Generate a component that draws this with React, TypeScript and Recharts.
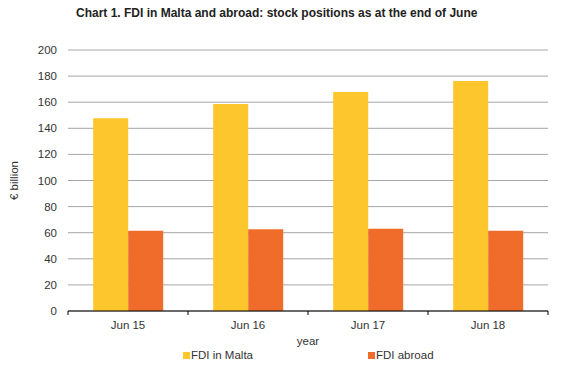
import React from "react";
import { BarChart, Bar, XAxis, YAxis, CartesianGrid } from "recharts";

const periods = ["Jun 15", "Jun 16", "Jun 17", "Jun 18"];
const fdiInMalta = [147.7, 158.6, 167.8, 176.2];
const fdiAbroad = [61.5, 62.6, 63.1, 61.5];
const yTicks = [0, 20, 40, 60, 80, 100, 120, 140, 160, 180, 200];
const seriesNames = ["FDI in Malta", "FDI abroad"];

const YELLOW = "#FDC62C";
const ORANGE = "#EF6C2B";
const FONT = "'Liberation Sans', Arial, sans-serif";

const data = periods.map((p, i) => ({
  period: p,
  malta: fdiInMalta[i],
  abroad: fdiAbroad[i],
}));

const BAND = 120;

function XTick(props: any) {
  const { x, y, payload, index } = props;
  const last = index === periods.length - 1;
  return (
    <g>
      <line x1={x - BAND / 2} x2={x - BAND / 2} y1={y - 8} y2={y - 4} stroke="#000" />
      {last && <line x1={x + BAND / 2} x2={x + BAND / 2} y1={y - 8} y2={y - 4} stroke="#000" />}
      <text x={x} y={y + 10} textAnchor="middle" fill="#333" fontSize={11.5} fontFamily={FONT}>
        {payload.value}
      </text>
    </g>
  );
}

export default function App() {
  return (
    <div style={{ position: "absolute", left: 0, top: 0, width: 564, height: 369, background: "#fff", fontFamily: FONT }}>
      <div style={{ position: "absolute", left: 76, top: 6, fontSize: 12, fontWeight: "bold", color: "#222", whiteSpace: "nowrap" }}>
        Chart 1. FDI in Malta and abroad: stock positions as at the end of June
      </div>
      <BarChart
        width={564}
        height={369}
        data={data}
        margin={{ top: 50, right: 16, left: 0, bottom: 0 }}
        barCategoryGap="21%"
        barGap={0}
      >
        <CartesianGrid vertical={false} stroke="#a6a6a6" />
        <YAxis
          width={68}
          domain={[0, 200]}
          ticks={yTicks}
          axisLine={false}
          tickLine={false}
          tickSize={0}
          tickMargin={11}
          tick={{ fill: "#333", fontSize: 11.5, fontFamily: FONT }}
          label={{ value: "€ billion", angle: -90, position: "insideLeft", offset: 14, fill: "#333", fontSize: 11.5, fontFamily: FONT, style: { textAnchor: "middle" } }}
        />
        <XAxis
          dataKey="period"
          height={58}
          axisLine={{ stroke: "#000" }}
          tickLine={false}
          tick={<XTick />}
          interval={0}
          label={{ value: "year", position: "insideBottom", offset: 24, fill: "#333", fontSize: 11.5, fontFamily: FONT }}
        />
        <Bar dataKey="malta" name={seriesNames[0]} fill={YELLOW} isAnimationActive={false} />
        <Bar dataKey="abroad" name={seriesNames[1]} fill={ORANGE} isAnimationActive={false} />
      </BarChart>
      <div style={{ position: "absolute", top: 349, left: 0, width: 564, fontSize: 11.5, color: "#333" }}>
        {seriesNames.map((n, i) => (
          <div key={n} style={{ position: "absolute", left: i === 0 ? 183 : 368, display: "flex", alignItems: "center", whiteSpace: "nowrap" }}>
            <span style={{ display: "inline-block", width: 7, height: 7, background: i === 0 ? YELLOW : ORANGE, marginRight: 1 }} />
            {n}
          </div>
        ))}
      </div>
    </div>
  );
}
